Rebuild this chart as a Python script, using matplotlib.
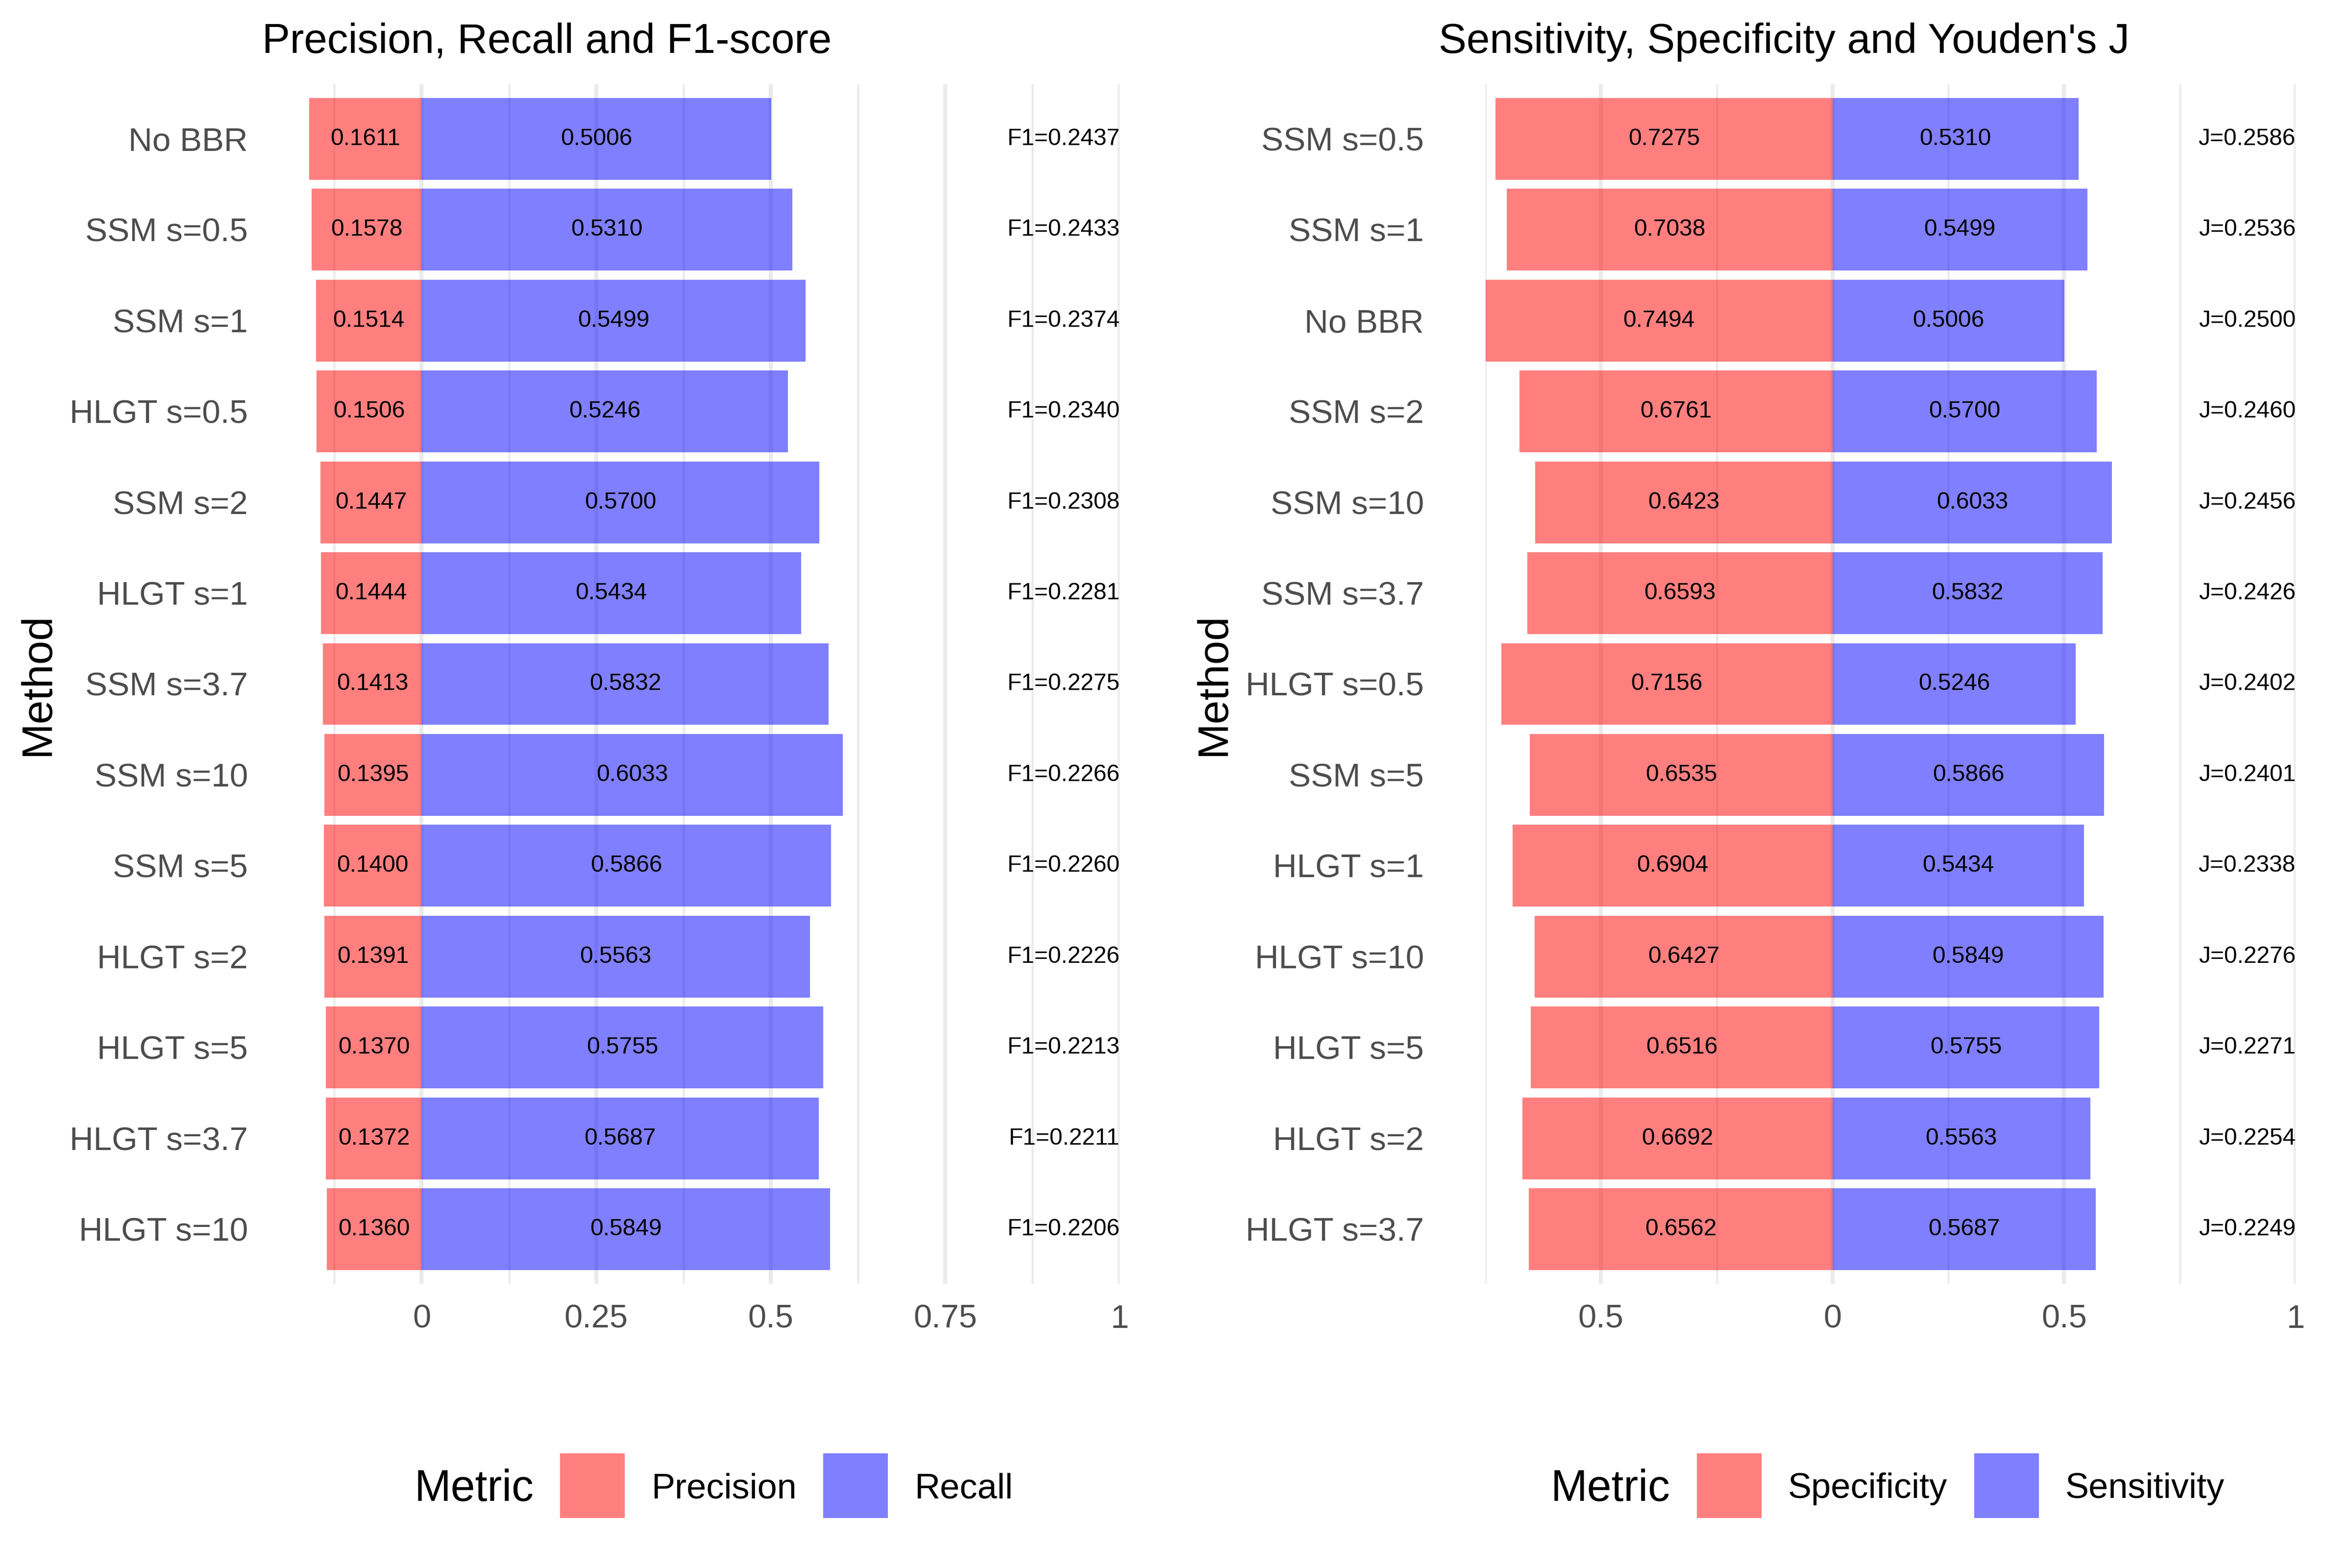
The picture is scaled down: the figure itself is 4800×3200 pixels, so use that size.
import matplotlib
matplotlib.use("Agg")
import matplotlib.pyplot as plt
from matplotlib.lines import Line2D

plt.rcParams['font.family'] = ['Liberation Sans', 'DejaVu Sans']

# left panel data (top to bottom)
pr_methods = ["No BBR", "SSM s=0.5", "SSM s=1", "HLGT s=0.5", "SSM s=2", "HLGT s=1",
              "SSM s=3.7", "SSM s=10", "SSM s=5", "HLGT s=2", "HLGT s=5", "HLGT s=3.7",
              "HLGT s=10"]
precision = [0.1611, 0.1578, 0.1514, 0.1506, 0.1447, 0.1444, 0.1413, 0.1395, 0.1400,
             0.1391, 0.1370, 0.1372, 0.1360]
recall = [0.5006, 0.5310, 0.5499, 0.5246, 0.5700, 0.5434, 0.5832, 0.6033, 0.5866,
          0.5563, 0.5755, 0.5687, 0.5849]
f1 = [0.2437, 0.2433, 0.2374, 0.2340, 0.2308, 0.2281, 0.2275, 0.2266, 0.2260,
      0.2226, 0.2213, 0.2211, 0.2206]

# right panel data (top to bottom)
sj_methods = ["SSM s=0.5", "SSM s=1", "No BBR", "SSM s=2", "SSM s=10", "SSM s=3.7",
              "HLGT s=0.5", "SSM s=5", "HLGT s=1", "HLGT s=10", "HLGT s=5", "HLGT s=2",
              "HLGT s=3.7"]
specificity = [0.7275, 0.7038, 0.7494, 0.6761, 0.6423, 0.6593, 0.7156, 0.6535, 0.6904,
               0.6427, 0.6516, 0.6692, 0.6562]
sensitivity = [0.5310, 0.5499, 0.5006, 0.5700, 0.6033, 0.5832, 0.5246, 0.5866, 0.5434,
               0.5849, 0.5755, 0.5563, 0.5687]
youden = [0.2586, 0.2536, 0.2500, 0.2460, 0.2456, 0.2426, 0.2402, 0.2401, 0.2338,
          0.2276, 0.2271, 0.2254, 0.2249]

W, H = 4800, 3200
fig = plt.figure(figsize=(16, 16 * H / W), dpi=300)

grid_c = "#EBEBEB"
tick_c = "#4D4D4D"


def panel(left, right, xmin, methods, neg, pos, extra, prefix, major, minor, ticklabels):
    ax = fig.add_axes([left / W, 1 - 2620 / H, (right - left) / W, (2620 - 172) / H])
    n = len(methods)
    y = list(range(n, 0, -1))
    ax.barh(y, [-v for v in neg], height=0.9, color="red", alpha=0.5, zorder=2)
    ax.barh(y, pos, height=0.9, color="blue", alpha=0.5, zorder=2)
    for yi, a, b, e in zip(y, neg, pos, extra):
        ax.text(-a / 2, yi, f"{a:.4f}", ha="center", va="center", fontsize=11.5, zorder=3)
        ax.text(b / 2, yi, f"{b:.4f}", ha="center", va="center", fontsize=11.5, zorder=3)
        ax.text(1.0, yi, f"{prefix}={e:.4f}", ha="right", va="center", fontsize=11.5, zorder=3)
    ax.set_xlim(xmin, 1.0)
    ax.set_ylim(0.4, n + 0.6)
    ax.set_yticks(y)
    ax.set_yticklabels(methods)
    ax.set_xticks(major)
    ax.set_xticklabels(ticklabels)
    ax.set_xticks(minor, minor=True)
    ax.grid(axis="x", which="major", color=grid_c, linewidth=2.0, zorder=0)
    ax.grid(axis="x", which="minor", color=grid_c, linewidth=1.1, zorder=0)
    ax.set_axisbelow(True)
    for s in ax.spines.values():
        s.set_visible(False)
    ax.tick_params(axis="y", length=0, pad=30, labelsize=16.2, labelcolor=tick_c)
    ax.tick_params(axis="x", which="both", length=0, pad=10, labelsize=16, labelcolor=tick_c)
    return ax


panel(631, 2285, -0.1611, pr_methods, precision, recall, f1, "F1",
      [0, 0.25, 0.5, 0.75, 1.0], [-0.125, 0.125, 0.375, 0.625, 0.875],
      ["0", "0.25", "0.5", "0.75", "1"])
panel(3031, 4685, -0.7494, sj_methods, specificity, sensitivity, youden, "J",
      [-0.5, 0, 0.5, 1.0], [-0.75, -0.25, 0.25, 0.75],
      ["0.5", "0", "0.5", "1"])

# titles
fig.text(1116 / W, 1 - 108 / H, "Precision, Recall and F1-score", ha="center", va="baseline",
         fontsize=20.5)
fig.text(3641 / W, 1 - 108 / H, "Sensitivity, Specificity and Youden's J", ha="center",
         va="baseline", fontsize=20.5)

# y axis titles
fig.text(77 / W, 1 - 1396 / H, "Method", rotation=90, ha="center", va="center", fontsize=21)
fig.text(2477 / W, 1 - 1396 / H, "Method", rotation=90, ha="center", va="center", fontsize=21)


def key(color, label):
    return Line2D([], [], marker="s", markersize=31.7, linestyle="none", color=color,
                  alpha=0.5, markeredgewidth=0, label=label)


# legends
ly = 1 - 3039 / H
fig.text(846 / W, ly, "Metric", ha="left", va="center", fontsize=21.5)
fig.legend(handles=[key("red", "Precision"), key("blue", "Recall")],
           loc="center left", bbox_to_anchor=(1143 / W, ly), ncol=2, frameon=False,
           fontsize=17.3, handlelength=1.83, handletextpad=0.75,
           columnspacing=0.76, borderpad=0, borderaxespad=0)
fig.text(3165 / W, ly, "Metric", ha="left", va="center", fontsize=21.5)
fig.legend(handles=[key("red", "Specificity"), key("blue", "Sensitivity")],
           loc="center left", bbox_to_anchor=(3463 / W, ly), ncol=2, frameon=False,
           fontsize=17.3, handlelength=1.83, handletextpad=0.75,
           columnspacing=0.76, borderpad=0, borderaxespad=0)

plt.savefig("out.png", dpi=300)
